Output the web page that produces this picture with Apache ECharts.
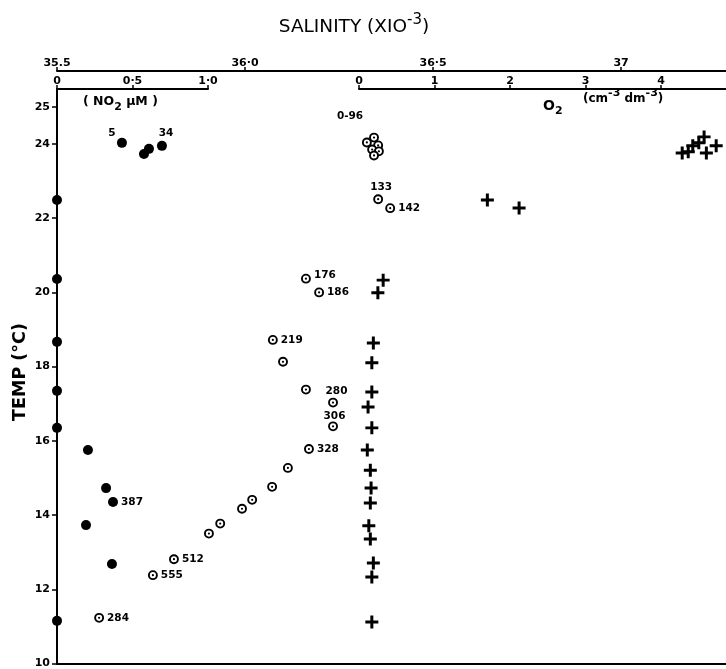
<!DOCTYPE html>
<html><head><meta charset="utf-8">
<script src="https://cdn.jsdelivr.net/npm/echarts@6/dist/echarts.min.js"></script>
<style>html,body{margin:0;padding:0;background:#fff}#c{width:726px;height:669px}</style>
</head><body><div id="c"></div>
<script>
// ---- axes / ticks ----
const tempMin = 10, tempMax = 25.48;
const tempTicks = [10, 12, 14, 16, 18, 20, 22, 24, 25];
const salMin = 35.5, salMax = 37.279;
const salTicks = [35.5, 36.0, 36.5, 37.0];
const salTickLabels = ['35.5', '36·0', '36·5', '37'];
const no2Min = 0, no2Max = 1.0;
const no2Ticks = [0, 0.5, 1.0];
const no2TickLabels = ['0', '0·5', '1·0'];
const o2Min = 0, o2Max = 4.86;
const o2Ticks = [0, 1, 2, 3, 4];
const o2TickLabels = ['0', '1', '2', '3', '4'];

// ---- NO2 (filled circles) ----
const no2Val  = [0.43, 0.576, 0.609, 0.695, 0, 0, 0, 0, 0, 0.205, 0.325, 0.371, 0.192, 0.364, 0];
const no2Temp = [24.04, 23.74, 23.88, 23.96, 22.51, 20.40, 18.72, 17.41, 16.42, 15.83, 14.81, 14.44, 13.82, 12.78, 11.26];
const no2Depth = ['5', '', '', '34', '', '', '', '', '', '', '', '387', '', '', ''];

// ---- Salinity (open circles) ----
const salVal  = [36.343, 36.324, 36.354, 36.338, 36.356, 36.343, 36.354, 36.386, 36.162, 36.197, 36.074, 36.101, 36.162, 36.234, 36.234, 36.170, 36.114, 36.072, 36.019, 35.992, 35.934, 35.904, 35.811, 35.755, 35.612];
const salTemp = [24.17, 24.04, 23.96, 23.85, 23.80, 23.69, 22.51, 22.27, 20.37, 20.00, 18.72, 18.13, 17.38, 17.03, 16.39, 15.78, 15.27, 14.76, 14.41, 14.17, 13.77, 13.50, 12.81, 12.38, 11.23];
const salDepth = ['0-96', '', '', '', '', '', '133', '142', '176', '186', '219', '', '', '280', '306', '328', '', '', '', '', '', '', '512', '555', '284'];

// ---- O2 (crosses) ----
const o2Val  = [4.28, 4.36, 4.42, 4.50, 4.57, 4.60, 4.73, 1.70, 2.12, 0.32, 0.25, 0.19, 0.17, 0.17, 0.12, 0.17, 0.11, 0.15, 0.16, 0.15, 0.13, 0.15, 0.19, 0.17, 0.17];
const o2Temp = [23.77, 23.80, 23.96, 24.04, 24.20, 23.77, 23.96, 22.51, 22.30, 20.37, 20.03, 18.69, 18.16, 17.38, 16.98, 16.42, 15.83, 15.29, 14.81, 14.41, 13.80, 13.45, 12.81, 12.43, 11.23];

const FONT = 'DejaVu Sans';
const PLUS = 'path://M3.85,0H6.15V3.85H10V6.15H6.15V10H3.85V6.15H0V3.85H3.85Z';

// label placement (style, kept apart from data)
const labelPlace = { '5': [-10, -10], '34': [4, -13], '0-96': [-24, -21], '133': [3, -12], '280': [3.5, -11], '306': [1.5, -10] };
const labelShift = { '176': [0, -3] };

function nearestLabel(ticks, labels, v) {
  let bi = 0, bd = Infinity;
  ticks.forEach((t, i) => { const d = Math.abs(t - v); if (d < bd) { bd = d; bi = i; } });
  return labels[bi];
}
function buildData(xs, ys, labs) {
  return xs.map((x, i) => {
    const item = { value: [x, ys[i]] };
    const t = labs ? labs[i] : '';
    if (t) {
      const lbl = { show: true, formatter: t, color: '#000', opacity: 1, fontFamily: FONT, fontWeight: 'bold', fontSize: 10.5 };
      if (labelPlace[t]) { lbl.position = 'inside'; lbl.offset = labelPlace[t]; }
      else { lbl.position = 'right'; lbl.distance = 3; if (labelShift[t]) lbl.offset = labelShift[t]; }
      item.label = lbl;
    }
    return item;
  });
}
function topAxis(grid, min, max, ticks, labels, offset) {
  return {
    type: 'value', gridIndex: grid, position: 'top', offset: offset, min: min, max: max,
    axisLine: { show: true, onZero: false, lineStyle: { color: '#000', width: 2 } },
    axisTick: { show: true, customValues: ticks, length: 4, lineStyle: { color: '#000', width: 1.5 } },
    axisLabel: { show: true, customValues: ticks, margin: 2, formatter: v => nearestLabel(ticks, labels, v),
      color: '#000', fontFamily: FONT, fontWeight: 'bold', fontSize: 11 },
    splitLine: { show: false }
  };
}
function hiddenY(grid) {
  return { type: 'value', gridIndex: grid, min: tempMin, max: tempMax, show: false, splitLine: { show: false } };
}

const chart = echarts.init(document.getElementById('c'));
chart.setOption({
  animation: false,
  backgroundColor: '#fff',
  grid: [
    { left: 57, top: 89, right: 0, bottom: 1 },
    { left: 57, top: 89, width: 151, bottom: 1 },
    { left: 359, top: 89, right: 0, bottom: 1 }
  ],
  xAxis: [
    topAxis(0, salMin, salMax, salTicks, salTickLabels, 18),
    topAxis(1, no2Min, no2Max, no2Ticks, no2TickLabels, 0),
    topAxis(2, o2Min, o2Max, o2Ticks, o2TickLabels, 0),
    { type: 'value', gridIndex: 0, position: 'bottom', min: salMin, max: salMax,
      axisLine: { show: true, onZero: false, lineStyle: { color: '#000', width: 2 } },
      axisTick: { show: false }, axisLabel: { show: false }, splitLine: { show: false } }
  ],
  yAxis: [
    { type: 'value', gridIndex: 0, position: 'left', min: tempMin, max: tempMax,
      axisLine: { show: true, onZero: false, lineStyle: { color: '#000', width: 2 } },
      axisTick: { show: true, customValues: tempTicks, length: 5, lineStyle: { color: '#000', width: 1.5 } },
      axisLabel: { show: true, customValues: tempTicks, margin: 7, color: '#000', fontFamily: FONT, fontWeight: 'bold', fontSize: 11 },
      splitLine: { show: false } },
    hiddenY(1),
    hiddenY(2)
  ],
  graphic: [
    { type: 'text', x: 354, y: 27, style: { text: '{m|SALINITY (XIO}{s|-3}{m|)}', align: 'center', verticalAlign: 'middle',
        rich: { m: { fontFamily: FONT, fontSize: 18.5, lineHeight: 28, fill: '#000' },
                s: { fontFamily: FONT, fontSize: 15, lineHeight: 13, verticalAlign: 'top', fill: '#000' } } } },
    { type: 'text', x: 83, y: 102, style: { text: '{m|( NO}{b|2}{m| μM )}', align: 'left', verticalAlign: 'middle',
        rich: { m: { fontFamily: FONT, fontWeight: 'bold', fontSize: 12.5, lineHeight: 22, fill: '#000' },
                b: { fontFamily: FONT, fontWeight: 'bold', fontSize: 11, lineHeight: 13, verticalAlign: 'bottom', fill: '#000' } } } },
    { type: 'text', x: 543, y: 106, style: { text: '{m|O}{b|2}', align: 'left', verticalAlign: 'middle',
        rich: { m: { fontFamily: FONT, fontWeight: 'bold', fontSize: 14, lineHeight: 22, fill: '#000' },
                b: { fontFamily: FONT, fontWeight: 'bold', fontSize: 11, lineHeight: 13, verticalAlign: 'bottom', fill: '#000' } } } },
    { type: 'text', x: 583, y: 99, style: { text: '{m|(cm}{s|-3}{m| dm}{s|-3}{m|)}', align: 'left', verticalAlign: 'middle',
        rich: { m: { fontFamily: FONT, fontWeight: 'bold', fontSize: 12, lineHeight: 22, fill: '#000' },
                s: { fontFamily: FONT, fontWeight: 'bold', fontSize: 11, lineHeight: 12, verticalAlign: 'top', fill: '#000' } } } },
    { type: 'text', x: 20, y: 372, rotation: Math.PI / 2, style: { text: 'TEMP (°C)', align: 'center', verticalAlign: 'middle',
        fontFamily: FONT, fontWeight: 'bold', fontSize: 17.5, fill: '#000' } }
  ],
  series: [
    { type: 'scatter', name: 'NO2', xAxisIndex: 1, yAxisIndex: 1, symbol: 'circle', symbolSize: 10, clip: false,
      itemStyle: { color: '#000', opacity: 1 }, data: buildData(no2Val, no2Temp, no2Depth), z: 3 },
    { type: 'scatter', name: 'Salinity', xAxisIndex: 0, yAxisIndex: 0, symbol: 'circle', symbolSize: 8, clip: false,
      itemStyle: { color: '#fff', borderColor: '#000', borderWidth: 1.9, opacity: 1 }, data: buildData(salVal, salTemp, salDepth) },
    { type: 'scatter', name: 'Salinity centre', xAxisIndex: 0, yAxisIndex: 0, symbol: 'circle', symbolSize: 2.2, clip: false, silent: true,
      itemStyle: { color: '#000', opacity: 1 }, data: buildData(salVal, salTemp, null) },
    { type: 'scatter', name: 'O2', xAxisIndex: 2, yAxisIndex: 2, symbol: PLUS, symbolSize: 13, clip: false,
      itemStyle: { color: '#000', opacity: 1 }, data: buildData(o2Val, o2Temp, null) }
  ]
});
</script>
</body></html>
